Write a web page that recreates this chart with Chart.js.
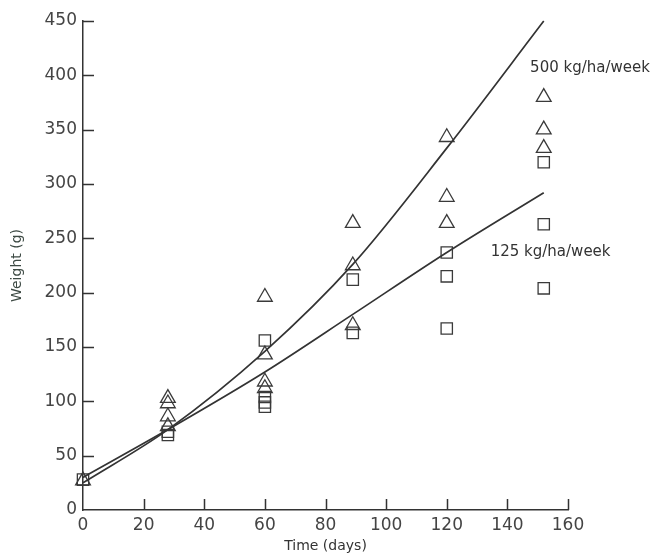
<!DOCTYPE html>
<html>
<head>
<meta charset="utf-8">
<script src="https://cdn.jsdelivr.net/npm/chart.js@4"></script>
<style>
  body { margin: 0; background: #fff; }
  #wrap { width: 665px; height: 555px; }
</style>
</head>
<body>
<div id="wrap"><canvas id="growth" width="665" height="555"></canvas></div>
<script>
// sampling days and the weights
const days = [0, 28, 60, 89, 120, 152];
const weights500 = [[27], [103, 98, 86, 77], [196, 143, 118, 112], [264, 225, 170], [343, 288, 264], [380, 350, 333]];
const weights125 = [[28], [72, 69], [156, 104, 99, 95], [212, 163], [237, 215, 167], [320, 263, 204]];

// fitted curves, read at the sampling days
const curve500 = [25, 74, 146, 226, 333, 450];
const curve125 = [30, 74, 127, 180, 237, 292];

const xTicks = [0, 20, 40, 60, 80, 100, 120, 140, 160];
const yTicks = [0, 50, 100, 150, 200, 250, 300, 350, 400, 450];

const ink = '#333';
const font = '"DejaVu Sans", Verdana, sans-serif';

function points(xs, groups) {
  return xs.flatMap((d, i) => groups[i].map(w => ({ x: d, y: w })));
}
function curve(xs, ys) {
  return xs.map((d, i) => ({ x: d, y: ys[i] }));
}

// ticks point inwards in the original, and the two curves are labelled
const extras = {
  id: 'extras',
  afterDatasetsDraw(chart) {
    const { ctx, chartArea, scales } = chart;
    const x = scales.x, y = scales.y;
    ctx.save();
    ctx.strokeStyle = ink;
    ctx.lineWidth = 1.5;
    ctx.beginPath();
    xTicks.forEach(v => {
      if (v === 0) return;
      const px = Math.round(x.getPixelForValue(v)) + 0.5;
      ctx.moveTo(px, chartArea.bottom);
      ctx.lineTo(px, chartArea.bottom - 11);
    });
    yTicks.forEach(v => {
      if (v === 0) return;
      const py = Math.round(y.getPixelForValue(v)) + 0.5;
      ctx.moveTo(chartArea.left, py);
      ctx.lineTo(chartArea.left + 11, py);
    });
    ctx.stroke();

    ctx.fillStyle = ink;
    ctx.font = '15px ' + font;
    ctx.textBaseline = 'middle';
    ctx.fillText('500 kg/ha/week', x.getPixelForValue(147.5), y.getPixelForValue(407));
    ctx.fillText('125 kg/ha/week', x.getPixelForValue(134.5), y.getPixelForValue(237));
    ctx.restore();
  }
};

const chart = new Chart(document.getElementById('growth'), {
  type: 'scatter',
  data: {
    datasets: [
      {
        label: '500 kg/ha/week fit',
        data: curve(days, curve500),
        showLine: true,
        cubicInterpolationMode: 'monotone',
        pointRadius: 0,
        borderColor: ink,
        borderWidth: 1.7,
        clip: false
      },
      {
        label: '125 kg/ha/week fit',
        data: curve(days, curve125),
        showLine: true,
        cubicInterpolationMode: 'monotone',
        pointRadius: 0,
        borderColor: ink,
        borderWidth: 1.7,
        clip: false
      },
      {
        label: '500 kg/ha/week',
        data: points(days, weights500),
        pointStyle: 'triangle',
        pointRadius: 8.5,
        borderColor: '#3a3a3a',
        backgroundColor: 'rgba(0,0,0,0)',
        borderWidth: 1.3,
        clip: false
      },
      {
        label: '125 kg/ha/week',
        data: points(days, weights125),
        pointStyle: 'rect',
        pointRadius: 8,
        borderColor: '#3a3a3a',
        backgroundColor: 'rgba(0,0,0,0)',
        borderWidth: 1.3,
        clip: false
      }
    ]
  },
  options: {
    responsive: false,
    animation: false,
    layout: { padding: { top: 21, right: 97, left: 9, bottom: 0 } },
    plugins: { legend: { display: false }, tooltip: { enabled: false } },
    scales: {
      x: {
        type: 'linear',
        min: 0,
        max: 160,
        afterBuildTicks: s => { s.ticks = xTicks.map(v => ({ value: v })); },
        afterFit: s => { s.height = 45; },
        grid: { display: true, drawOnChartArea: false, drawTicks: false },
        border: { display: true, color: ink, width: 1.5 },
        ticks: { padding: 5, color: '#444', font: { family: font, size: 17 }, maxRotation: 0 },
        title: { display: true, text: 'Time (days)', color: ink, font: { family: font, size: 14 }, padding: { top: 0, bottom: 0 } }
      },
      y: {
        type: 'linear',
        min: 0,
        max: 450,
        afterBuildTicks: s => { s.ticks = yTicks.map(v => ({ value: v })); },
        afterFit: s => { s.width = 74; },
        grid: { display: true, drawOnChartArea: false, drawTicks: false },
        border: { display: true, color: ink, width: 1.5 },
        ticks: { padding: 6, color: '#444', font: { family: font, size: 17 } },
        title: { display: true, text: 'Weight (g)', color: '#3d4a44', font: { family: font, size: 14 }, padding: { top: 0, bottom: 0 } }
      }
    }
  },
  plugins: [extras]
});
</script>
</body>
</html>
